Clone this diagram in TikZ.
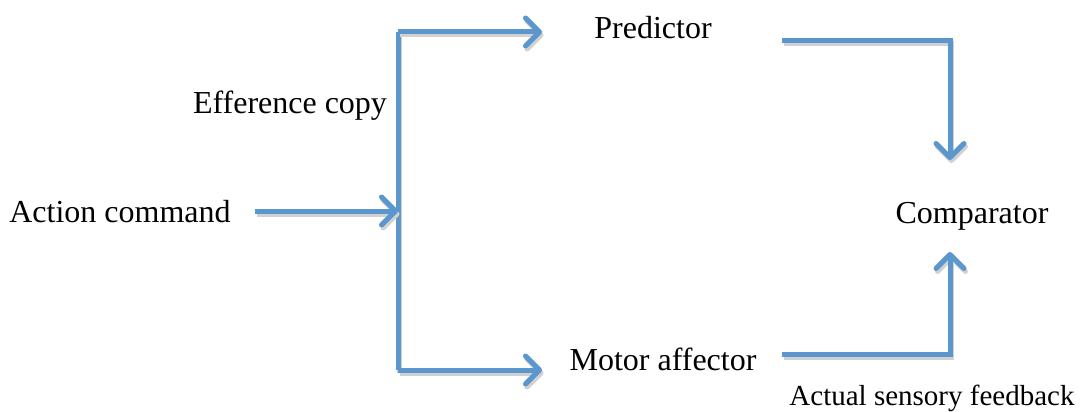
\documentclass[tikz,border=0pt]{standalone}
\usepackage{fontspec}
\setmainfont{Liberation Serif}
\usetikzlibrary{arrows.meta}
\definecolor{flow}{RGB}{91,150,204}
\tikzset{
  lbl/.style={font=\fontsize{32}{37}\selectfont, inner sep=0pt, anchor=base},
  lblsmall/.style={font=\fontsize{29}{34}\selectfont, inner sep=0pt, anchor=base},
  conn/.style={draw=flow, line width=5pt, line join=miter,
    preaction={draw=black!18, line width=5pt, transform canvas={shift={(1.5pt,-3pt)}}}},
  arr/.style={conn, -{Straight Barb[length=14pt,width=28pt,line cap=round,line join=round]}}
}
\begin{document}
\begin{tikzpicture}[x=1pt,y=-1pt]
\useasboundingbox (0,0) rectangle (1081,412);
\node[lbl] (act) at (120,222) {Action command};
\node[lbl] (eff) at (290,113) {Efference copy};
\node[lbl] (pred) at (653,38) {Predictor};
\node[lbl] (mot) at (663,370) {Motor affector};
\node[lbl] (comp) at (972,223) {Comparator};
\node[lblsmall] (fb) at (932,405) {Actual sensory feedback};
\coordinate (aout) at (255,211);
\coordinate (smid) at (398,211);
\coordinate (stop) at (398,32);
\coordinate (sbot) at (398,370);
\coordinate (pin) at (542,32);
\coordinate (min) at (542,370);
\coordinate (pout) at (782,41);
\coordinate (pc) at (950,41);
\coordinate (cin) at (950,160);
\coordinate (mout) at (782,354);
\coordinate (mc) at (950,354);
\coordinate (cin2) at (950,252);
\draw[conn] (sbot) -- (stop);
\draw[arr] (stop) -- (pin);
\draw[arr] (sbot) -- (min);
\draw[arr] (aout) -- (smid);
\draw[arr] (pout) -- (pc) -- (cin);
\draw[arr] (mout) -- (mc) -- (cin2);
\end{tikzpicture}
\end{document}
